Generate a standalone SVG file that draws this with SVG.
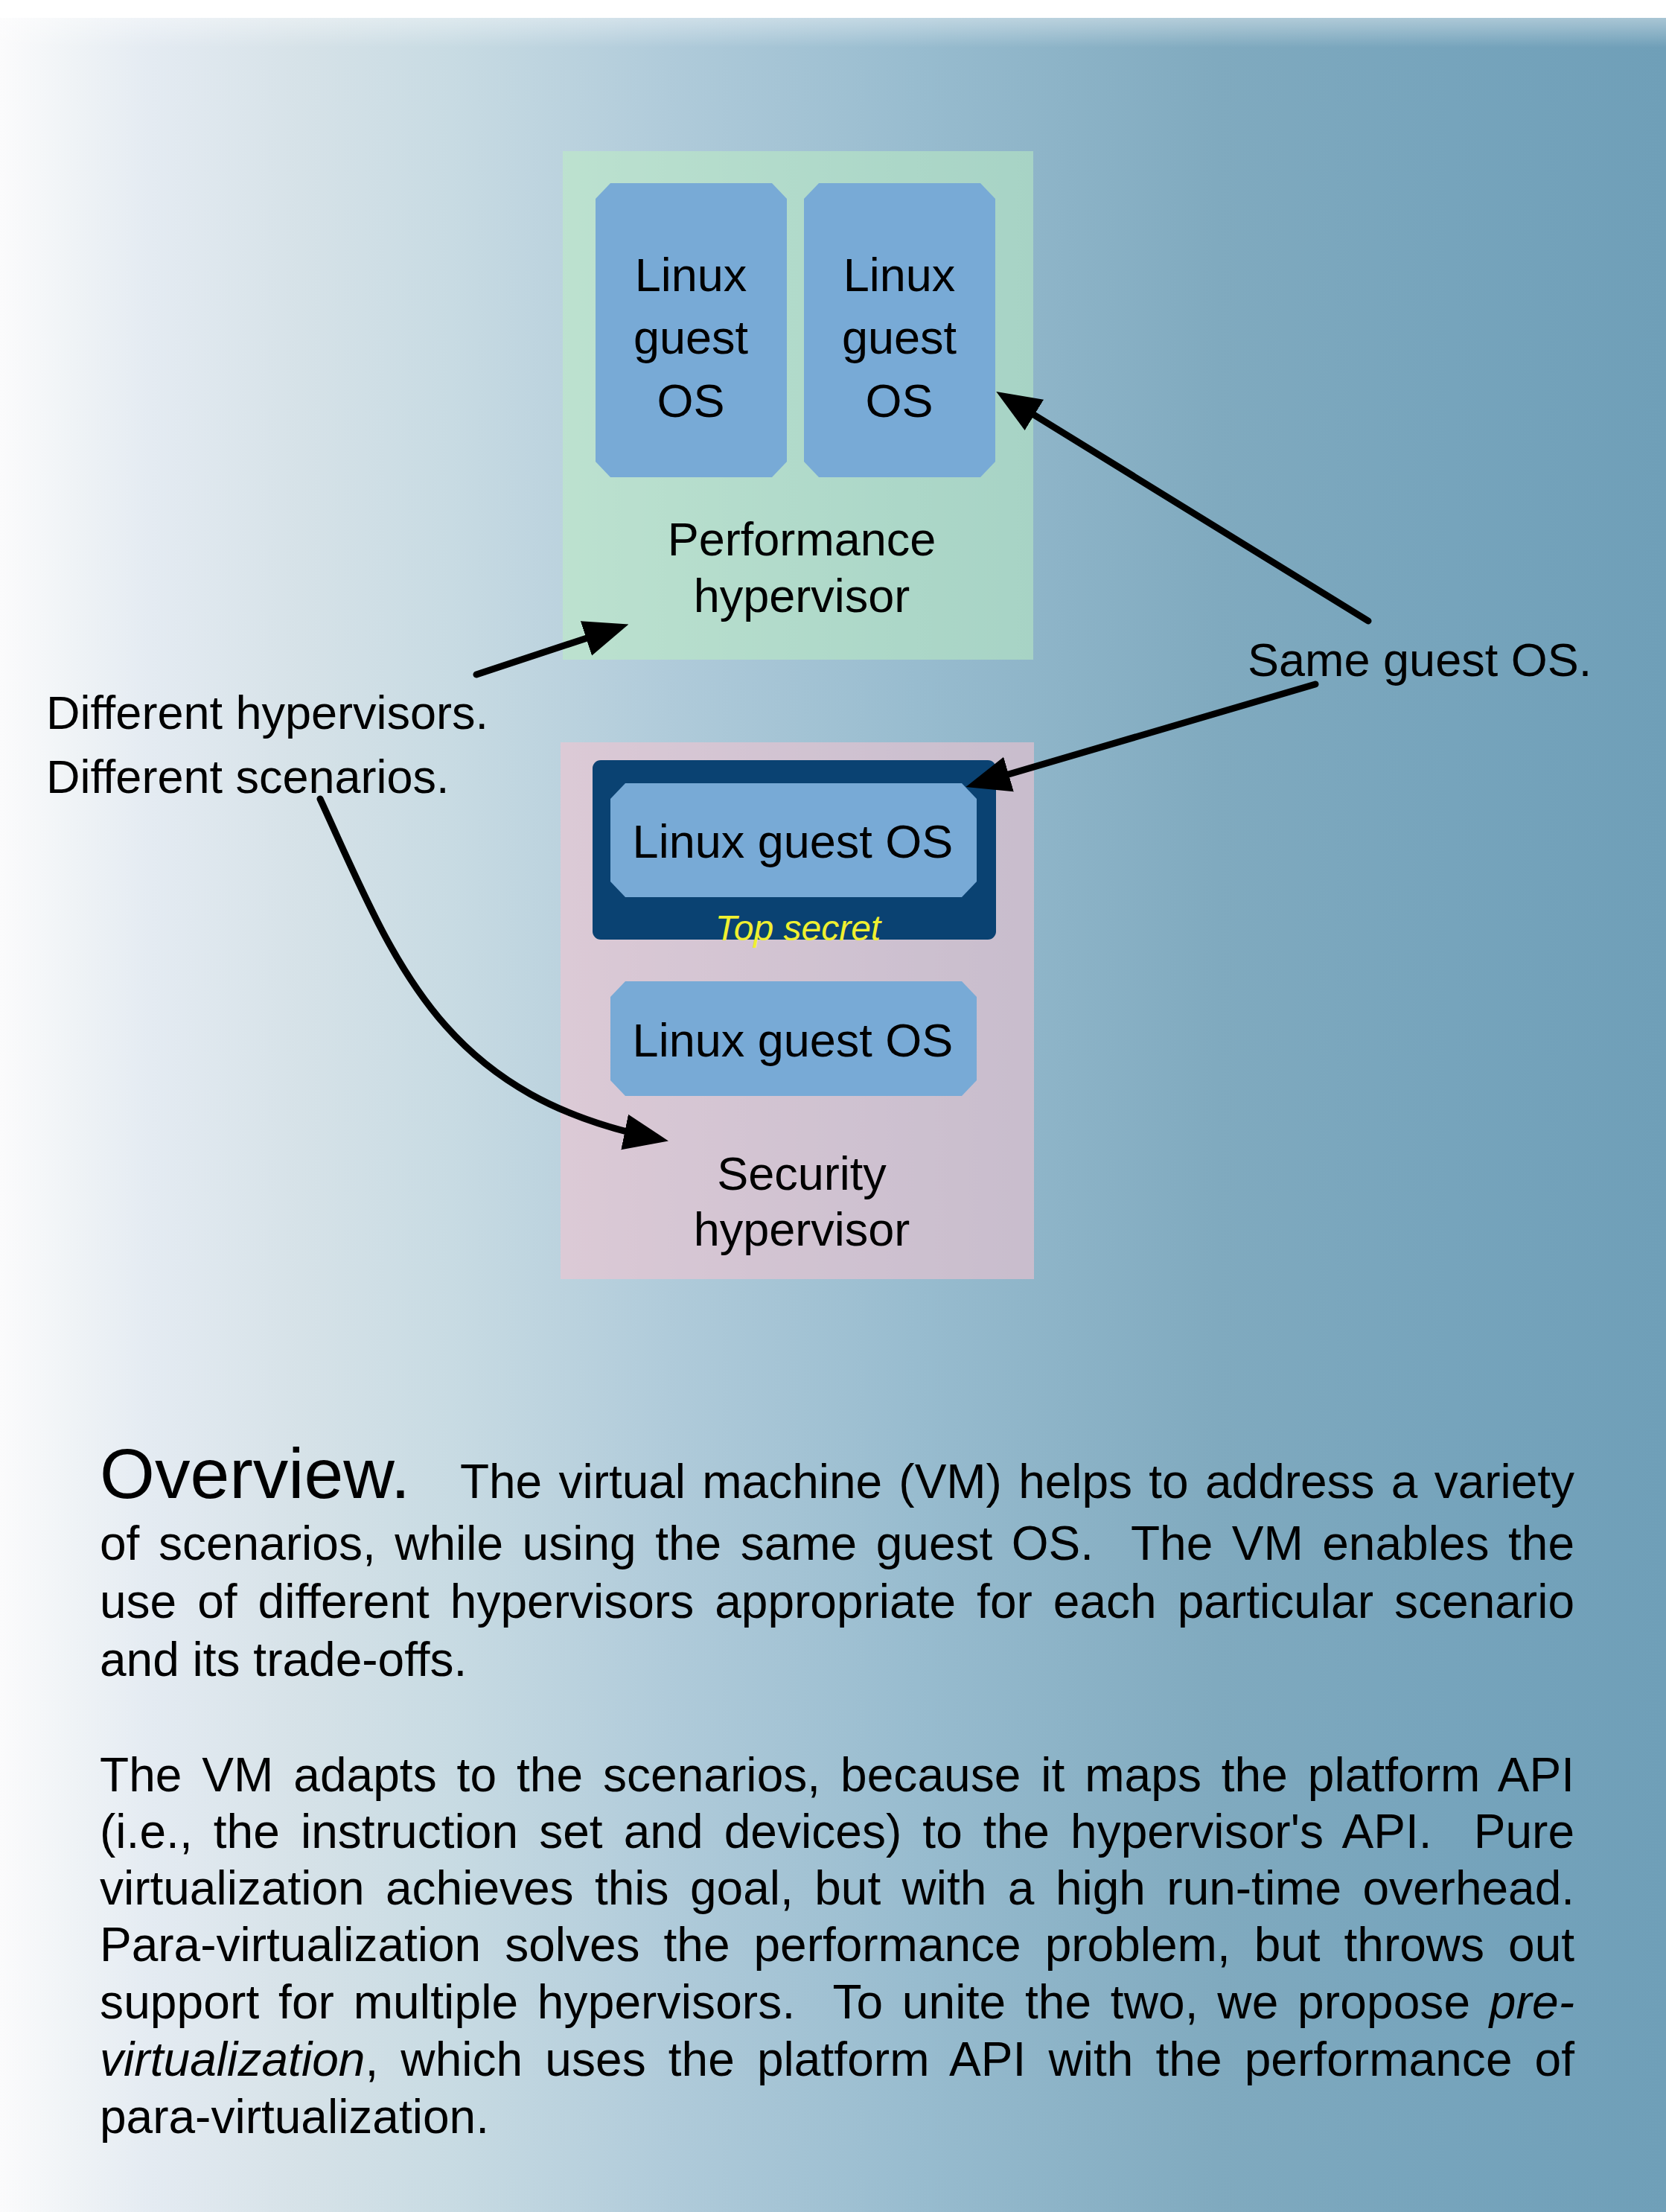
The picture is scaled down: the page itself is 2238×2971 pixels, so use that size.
<svg xmlns="http://www.w3.org/2000/svg" width="2238" height="2971" viewBox="0 0 2238 2971">
<defs>
<linearGradient id="bg" x1="0" y1="0" x2="1" y2="0">
<stop offset="0" stop-color="#fbfbfc"/>
<stop offset="0.045" stop-color="#eff3f6"/>
<stop offset="0.09" stop-color="#e4ebf2"/>
<stop offset="0.18" stop-color="#d6e2e8"/>
<stop offset="0.27" stop-color="#c8dbe3"/>
<stop offset="0.4" stop-color="#b0cbda"/>
<stop offset="0.55" stop-color="#98bccf"/>
<stop offset="0.73" stop-color="#80aabf"/>
<stop offset="0.87" stop-color="#76a4bc"/>
<stop offset="1" stop-color="#6f9fb8"/>
</linearGradient>
<linearGradient id="topfade" x1="0" y1="0" x2="0" y2="1">
<stop offset="0" stop-color="#ffffff" stop-opacity="0.4"/>
<stop offset="1" stop-color="#ffffff" stop-opacity="0"/>
</linearGradient>
<marker id="ah" markerUnits="userSpaceOnUse" markerWidth="60" markerHeight="50" viewBox="0 0 52 42" refX="37" refY="21" orient="auto">
<path d="M0,0 L52,21 L0,42 z" fill="#000"/>
</marker>
</defs>
<style>
.t{font-family:"Liberation Sans",Arial,Helvetica,sans-serif;fill:#000}
.lbl{font-size:63px;text-anchor:middle}
.note{font-size:63px}
.para{font-size:64px}
.os{fill:#78aad6}
.conn{fill:none;stroke:#000;stroke-width:9;stroke-linecap:round;marker-end:url(#ah)}
</style>
<rect x="0" y="0" width="2238" height="2971" fill="#ffffff"/>
<rect x="0" y="24" width="2238" height="2947" fill="url(#bg)"/>
<rect x="0" y="24" width="2238" height="40" fill="url(#topfade)"/>

<g id="performance-hypervisor">
<rect x="756" y="203" width="632" height="683" fill="#bef0c1" fill-opacity="0.52"/>
<text class="t lbl" x="1077" y="746">Performance</text>
<text class="t lbl" x="1077" y="822">hypervisor</text>
</g>
<g id="linux-guest-os-1">
<polygon class="os" points="820,246 1037,246 1057,267 1057,620 1037,641 820,641 800,620 800,267"/>
<text class="t lbl" x="928" y="391">Linux</text>
<text class="t lbl" x="928" y="475">guest</text>
<text class="t lbl" x="928" y="560">OS</text>
</g>
<g id="linux-guest-os-2">
<polygon class="os" points="1100,246 1317,246 1337,267 1337,620 1317,641 1100,641 1080,620 1080,267"/>
<text class="t lbl" x="1208" y="391">Linux</text>
<text class="t lbl" x="1208" y="475">guest</text>
<text class="t lbl" x="1208" y="560">OS</text>
</g>

<g id="security-hypervisor">
<rect x="753" y="997" width="636" height="721" fill="#f4c3d0" fill-opacity="0.57"/>
<text class="t lbl" x="1077" y="1598">Security</text>
<text class="t lbl" x="1077" y="1673">hypervisor</text>
</g>
<g id="top-secret">
<rect x="796" y="1021" width="542" height="241" rx="11" fill="#0a4272"/>
<text x="1072" y="1263" font-family="Liberation Sans,Arial,sans-serif" font-size="48" font-style="italic" fill="#f0f030" text-anchor="middle">Top secret</text>
</g>
<g id="linux-guest-os-3">
<polygon class="os" points="840,1052 1292,1052 1312,1073 1312,1184 1292,1205 840,1205 820,1184 820,1073"/>
<text class="t lbl" x="1065" y="1152">Linux guest OS</text>
</g>
<g id="linux-guest-os-4">
<polygon class="os" points="840,1318 1292,1318 1312,1339 1312,1451 1292,1472 840,1472 820,1451 820,1339"/>
<text class="t lbl" x="1065" y="1419">Linux guest OS</text>
</g>

<g id="label-different">
<text class="t note" x="62" y="979">Different hypervisors.</text>
<text class="t note" x="62" y="1065">Different scenarios.</text>
</g>
<g id="label-same">
<text class="t note" x="1676" y="908">Same guest OS.</text>
</g>

<g id="connectors">
<path class="conn" d="M640,906 L828,844"/>
<path class="conn" d="M430,1073 C530,1290 590,1470 881,1529"/>
<path class="conn" d="M1838,834 L1353,535"/>
<path class="conn" d="M1767,919 L1314,1052"/>
</g>

<g id="overview">
<text class="t" x="134" y="2012" font-size="95">Overview.</text>
<text class="t para" x="618" y="2012" style="word-spacing:4.6px" textLength="1497" lengthAdjust="spacing">The virtual machine (VM) helps to address a variety</text>
<text class="t para" x="134" y="2095" xml:space="preserve" style="word-spacing:7.7px" textLength="1981" lengthAdjust="spacing">of scenarios, while using the same guest OS.  The VM enables the</text>
<text class="t para" x="134" y="2173" style="word-spacing:10.2px" textLength="1981" lengthAdjust="spacing">use of different hypervisors appropriate for each particular scenario</text>
<text class="t para" x="134" y="2251">and its trade-offs.</text>

<text class="t para" x="134" y="2406" style="word-spacing:9px" textLength="1981" lengthAdjust="spacing">The VM adapts to the scenarios, because it maps the platform API</text>
<text class="t para" x="134" y="2482" xml:space="preserve" style="word-spacing:10.2px" textLength="1981" lengthAdjust="spacing">(i.e., the instruction set and devices) to the hypervisor's API.  Pure</text>
<text class="t para" x="134" y="2558" style="word-spacing:10.7px" textLength="1981" lengthAdjust="spacing">virtualization achieves this goal, but with a high run-time overhead.</text>
<text class="t para" x="134" y="2634" style="word-spacing:14.2px" textLength="1981" lengthAdjust="spacing">Para-virtualization solves the performance problem, but throws out</text>
<text class="t para" x="134" y="2711" xml:space="preserve" style="word-spacing:7.7px" textLength="1981" lengthAdjust="spacing">support for multiple hypervisors.  To unite the two, we propose <tspan font-style="italic">pre-</tspan></text>
<text class="t para" x="134" y="2788" style="word-spacing:12.2px" textLength="1981" lengthAdjust="spacing"><tspan font-style="italic">virtualization</tspan>, which uses the platform API with the performance of</text>
<text class="t para" x="134" y="2865">para-virtualization.</text>
</g>
</svg>
